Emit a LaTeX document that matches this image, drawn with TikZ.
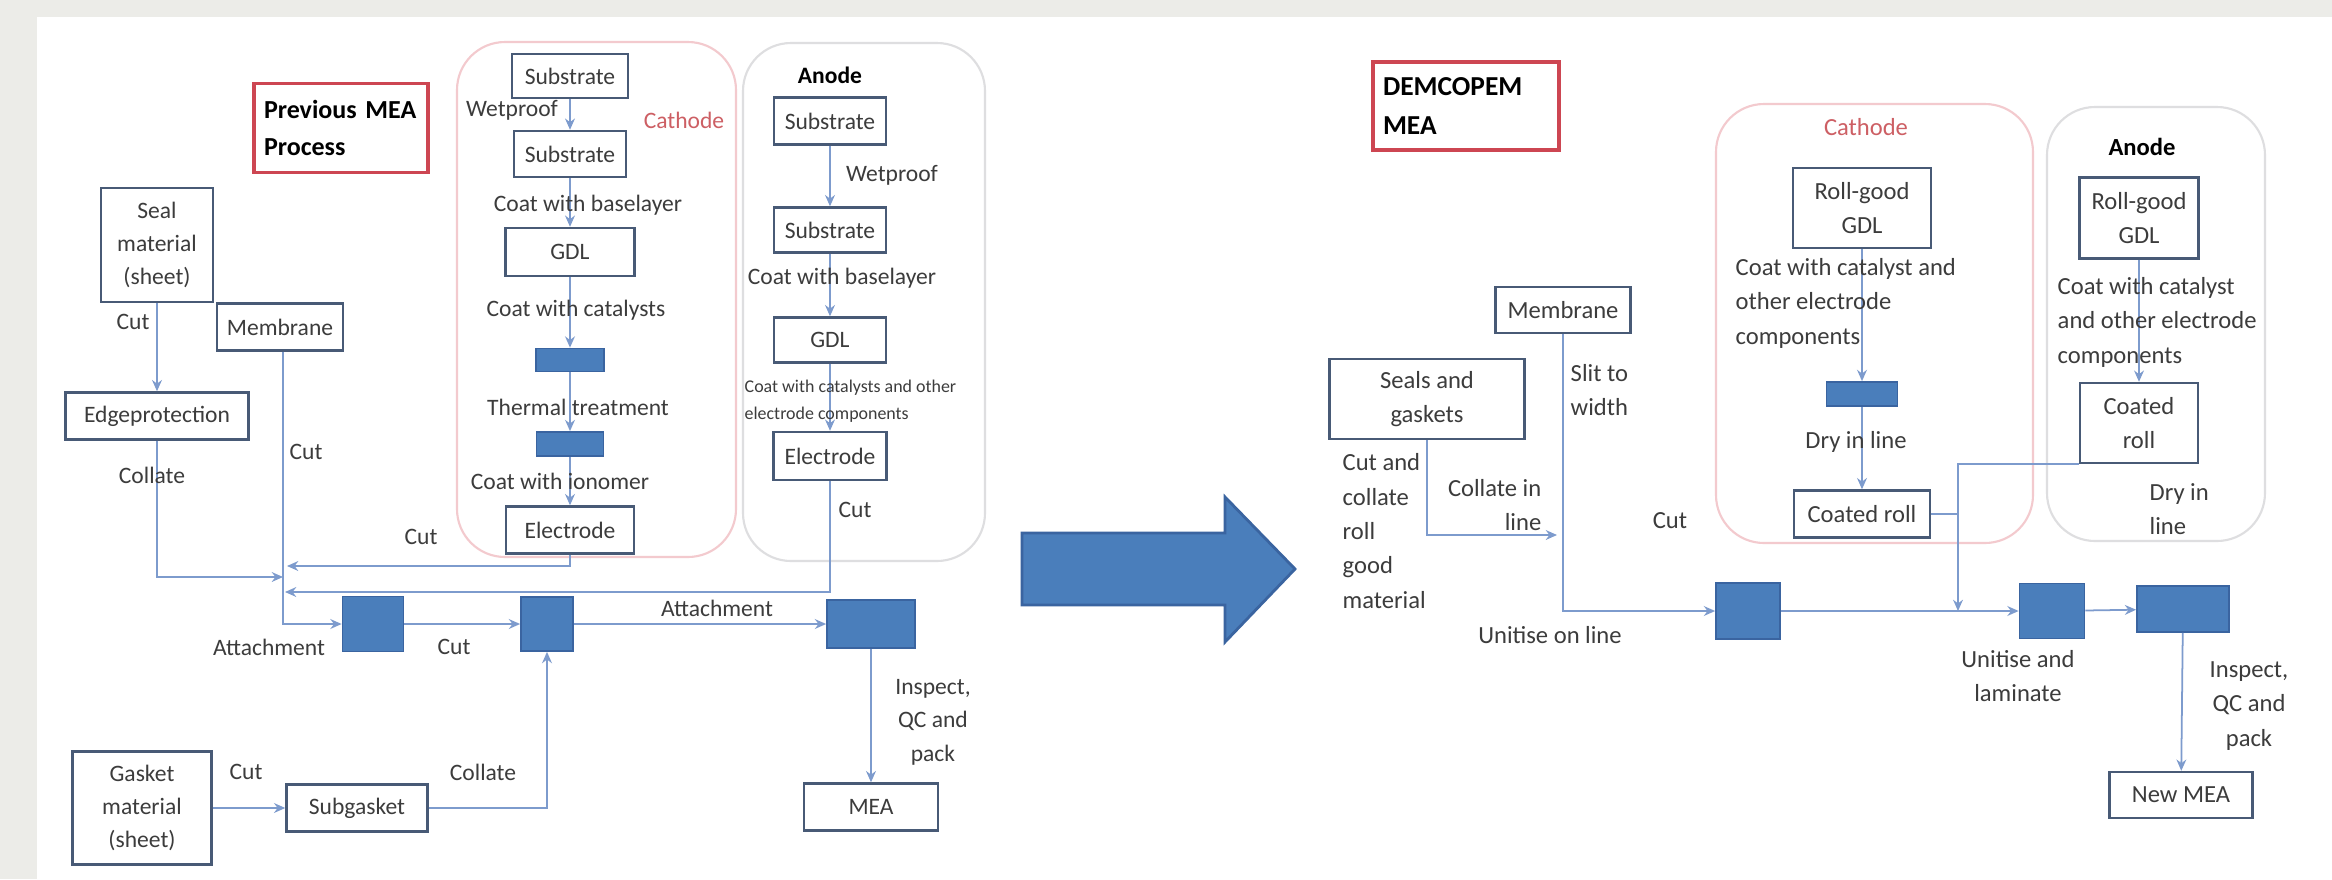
\documentclass[tikz,border=0pt]{standalone}
\usepackage{fontspec}
\setmainfont{Carlito}
\usetikzlibrary{arrows.meta}

\definecolor{slide}{RGB}{236,236,232}
\definecolor{inktext}{RGB}{60,60,60}
\definecolor{boxline}{RGB}{72,90,118}
\definecolor{flow}{RGB}{125,155,205}
\definecolor{unitblue}{RGB}{74,126,187}
\definecolor{unitedge}{RGB}{58,100,160}
\definecolor{titlered}{RGB}{205,70,82}
\definecolor{cathline}{RGB}{243,202,206}
\definecolor{anodeline}{RGB}{222,222,224}
\definecolor{cathtext}{RGB}{205,95,100}

\begin{document}
\begin{tikzpicture}[x = 0.1mm, y = -0.1mm, > = {Stealth[length = 3.2pt, width = 2.8pt]},
	lbl/.style = {text = inktext, inner sep = 0pt, align = center, font = \fontsize{6.7}{9.5}\selectfont},
	rlbl/.style = {lbl, font = \fontsize{7}{9.8}\selectfont},
	box/.style = {lbl, draw = boxline, line width = 0.7pt, fill = white},
	rbox/.style = {box, font = \fontsize{7}{9.8}\selectfont},
	unit/.style = {draw = unitedge, fill = unitblue, line width = 0.5pt, inner sep = 0pt},
	titlebox/.style = {draw = titlered, line width = 0.9pt, fill = white, text = black, align = left,
		inner xsep = 1mm, inner ysep = 0pt, font = \bfseries\fontsize{7.4}{10.5}\selectfont},
	frame/.style = {line width = 0.6pt, rounded corners = 4.8mm},
	flowline/.style = {draw = flow, line width = 0.5pt}]

	% Slide + bounding box

	\useasboundingbox (0, 0) rectangle (2332, 879);
	\fill [slide] (0, 0) rectangle (2332, 879);
	\fill [white] (37, 17) rectangle (2332, 879);

	% Previous process: titles + containers

	\node [titlebox, minimum width = 17.4mm, minimum height = 8.9mm, text width = 15.4mm] (prevtitle) at (341, 128) {Previous MEA\\Process};

	\draw [frame, cathline] (457, 42) rectangle (736, 557);
	\draw [frame, anodeline] (743, 43) rectangle (985, 561);

	\node [lbl, text = cathtext] (cathname) at (684, 120) {Cathode};
	\node [lbl, text = black, font = \bfseries\fontsize{6.7}{9.5}\selectfont] (anodename) at (830, 75) {Anode};

	% Cathode chain

	\node [box, minimum width = 11.6mm, minimum height = 4.4mm] (csubA) at (570, 76) {Substrate};
	\node [box, minimum width = 11.2mm, minimum height = 4.6mm] (csubB) at (570, 154) {Substrate};
	\node [box, minimum width = 12.9mm, minimum height = 4.8mm] (cgdl) at (570, 252) {GDL};
	\node [unit, minimum width = 6.8mm, minimum height = 2.3mm] (cheatA) at (570, 360) {};
	\node [unit, minimum width = 6.7mm, minimum height = 2.4mm] (cheatB) at (570, 444) {};
	\node [box, minimum width = 12.8mm, minimum height = 4.7mm] (celec) at (570, 530) {Electrode};

	\foreach \a/\b in {csubA/csubB, csubB/cgdl, cgdl/cheatA, cheatA/cheatB, cheatB/celec}
		\draw [flowline, ->] (\a) -- (\b);

	\node [lbl] (cwet) at (512, 110) {Wetproof};
	\node [lbl] (cbase) at (588, 205) {Coat with baselayer};
	\node [lbl] (ccat) at (576, 310) {Coat with catalysts};
	\node [lbl] (ctherm) at (578, 407) {Thermal treatment};
	\node [lbl] (cion) at (560, 481) {Coat with ionomer};

	% Anode chain

	\node [box, minimum width = 11.2mm, minimum height = 4.7mm] (asubA) at (830, 121) {Substrate};
	\node [box, minimum width = 11.2mm, minimum height = 4.5mm] (asubB) at (830, 230) {Substrate};
	\node [box, minimum width = 11.2mm, minimum height = 4.5mm] (agdl) at (830, 340) {GDL};
	\node [box, minimum width = 11.3mm, minimum height = 4.8mm] (aelec) at (830, 456) {Electrode};

	\foreach \a/\b in {asubA/asubB, asubB/agdl, agdl/aelec}
		\draw [flowline, ->] (\a) -- (\b);

	\node [lbl] (awet) at (892, 175) {Wetproof};
	\node [lbl] (abase) at (842, 278) {Coat with baselayer};
	\node [lbl, anchor = west, align = left, font = \fontsize{5.1}{7.6}\selectfont] (acat) at (744, 401) {Coat with catalysts and other\\electrode components};
	\node [lbl] (acut) at (855, 510) {Cut};

	% Seal, membrane + gasket inputs

	\node [box, minimum width = 11.2mm, minimum height = 11.4mm] (seal) at (157, 245) {Seal\\material\\(sheet)};
	\node [box, minimum width = 12.6mm, minimum height = 4.7mm] (memb) at (280, 327) {Membrane};
	\node [box, minimum width = 18.3mm, minimum height = 4.7mm] (edge) at (157, 416) {Edgeprotection};
	\node [box, minimum width = 13.9mm, minimum height = 11.3mm] (gasket) at (142, 808) {Gasket\\material\\(sheet)};
	\node [box, minimum width = 14.1mm, minimum height = 4.7mm] (subg) at (357, 808) {Subgasket};

	% Assembly line

	\node [unit, minimum width = 6.1mm, minimum height = 5.5mm] (attA) at (373, 624) {};
	\node [unit, minimum width = 5.2mm, minimum height = 5.4mm] (attB) at (547, 624) {};
	\node [unit, minimum width = 8.8mm, minimum height = 4.8mm] (attC) at (871, 624) {};
	\node [box, minimum width = 13.4mm, minimum height = 4.7mm] (mea) at (871, 807) {MEA};

	\coordinate (mjoin) at (283, 624);
	\coordinate (colend) at (283, 577);
	\coordinate (cutend) at (287, 566);
	\coordinate (anend) at (285, 592);

	\draw [flowline, ->] (seal) -- (edge);
	\draw [flowline, ->] (edge.south) |- (colend);
	\draw [flowline, ->] (celec.south) |- (cutend);
	\draw [flowline, ->] (aelec.south) |- (anend);
	\draw [flowline, ->] (memb.south -| mjoin) -- (mjoin) -- (attA);
	\draw [flowline, ->] (attA) -- (attB);
	\draw [flowline, ->] (attB) -- (attC);
	\draw [flowline, ->] (attC) -- (mea);
	\draw [flowline, ->] (gasket) -- (subg);
	\draw [flowline, ->] (subg.east) -| (attB.south);

	\node [lbl] (sealcut) at (133, 322) {Cut};
	\node [lbl] (membcut) at (306, 452) {Cut};
	\node [lbl] (edgecol) at (152, 475) {Collate};
	\node [lbl] (eleccut) at (421, 537) {Cut};
	\node [lbl] (attachA) at (269, 647) {Attachment};
	\node [lbl] (midcut) at (454, 647) {Cut};
	\node [lbl] (attachB) at (717, 608) {Attachment};
	\node [lbl] (gasketcut) at (246, 772) {Cut};
	\node [lbl] (subcol) at (483, 772) {Collate};
	\node [lbl] (prevqc) at (933, 722) {Inspect,\\QC and\\pack};

	% Big arrow

	\filldraw [fill = unitblue, draw = unitedge, line width = 0.8pt] (1022, 533) -- (1225, 533) -- (1225, 497) -- (1295, 569) -- (1225, 642) -- (1225, 605) -- (1022, 605) -- cycle;

	% DEMCOPEM process: titles + containers

	\node [titlebox, minimum width = 18.6mm, minimum height = 8.8mm, text width = 16.6mm, font = \bfseries\fontsize{7.8}{11}\selectfont] (demtitle) at (1466, 106) {DEMCOPEM\\MEA};

	\draw [frame, cathline] (1716, 104) rectangle (2033, 543);
	\draw [frame, anodeline] (2047, 107) rectangle (2265, 541);

	\node [rlbl, text = cathtext] (rcathname) at (1866, 127) {Cathode};
	\node [rlbl, text = black, font = \bfseries\fontsize{7}{9.8}\selectfont] (ranodename) at (2142, 147) {Anode};

	% Roll-good chains

	\node [rbox, minimum width = 13.8mm, minimum height = 8.0mm] (rcgdl) at (1862, 208) {Roll-good\\GDL};
	\node [unit, minimum width = 7.1mm, minimum height = 2.4mm] (rcdry) at (1862, 394) {};
	\node [rbox, minimum width = 13.6mm, minimum height = 4.7mm] (rccoat) at (1862, 514) {Coated roll};
	\node [rbox, minimum width = 11.9mm, minimum height = 8.1mm] (ragdl) at (2139, 218) {Roll-good\\GDL};
	\node [rbox, minimum width = 11.8mm, minimum height = 8.0mm] (racoat) at (2139, 423) {Coated\\roll};

	\draw [flowline, ->] (rcgdl) -- (rcdry);
	\draw [flowline, ->] (rcdry) -- (rccoat);
	\draw [flowline, ->] (ragdl) -- (racoat);

	\node [rlbl, anchor = west, align = left] (rccat) at (1735, 303) {Coat with catalyst and\\other electrode\\components};
	\node [rlbl] (rcdryl) at (1856, 442) {Dry in line};
	\node [rlbl, anchor = west, align = left] (racat) at (2057, 322) {Coat with catalyst\\and other electrode\\components};
	\node [rlbl, anchor = west, align = left] (radryl) at (2149, 509) {Dry in\\line};

	% Seals + membrane inputs

	\node [rbox, minimum width = 13.5mm, minimum height = 4.6mm] (rmemb) at (1563, 310) {Membrane};
	\node [rbox, minimum width = 19.5mm, minimum height = 8.0mm] (seals) at (1427, 399) {Seals and\\gaskets};

	% Unitise line

	\node [unit, minimum width = 6.4mm, minimum height = 5.6mm] (uniA) at (1748, 611) {};
	\node [unit, minimum width = 6.5mm, minimum height = 5.5mm] (uniB) at (2052, 611) {};
	\node [unit, minimum width = 9.2mm, minimum height = 4.6mm] (uniC) at (2183, 609) {};
	\node [rbox, minimum width = 14.3mm, minimum height = 4.6mm] (newmea) at (2181, 795) {New MEA};

	\coordinate (rjoin) at (1563, 611);
	\coordinate (sealend) at (1557, 535);
	\coordinate (rdrop) at (1958, 611);

	\draw [flowline, ->] (seals.south) |- (sealend);
	\draw [flowline, ->] (rmemb.south) -- (rjoin) -- (uniA);
	\draw [flowline, ->] (uniA) -- (uniB);
	\draw [flowline, ->] (uniB) -- (uniC);
	\draw [flowline, ->] (uniC) -- (newmea);
	\draw [flowline, ->] (racoat.south west) -| (rdrop);
	\draw [flowline] (rccoat.east) -- (rccoat.east -| rdrop);

	\node [rlbl] (slit) [anchor = west, align = left] at (1570, 390) {Slit to\\width};
	\node [rlbl, anchor = west, align = left] (cutcol) at (1342, 531) {Cut and\\collate\\roll\\good\\material};
	\node [rlbl, anchor = east, align = right] (colline) at (1542, 505) {Collate in\\line};
	\node [rlbl] (rcut) at (1670, 521) {Cut};
	\node [rlbl] (uniline) at (1550, 635) {Unitise on line};
	\node [rlbl] (unilam) at (2018, 676) {Unitise and\\laminate};
	\node [rlbl] (newqc) at (2249, 706) {Inspect,\\QC and\\pack};

\end{tikzpicture}
\end{document}
